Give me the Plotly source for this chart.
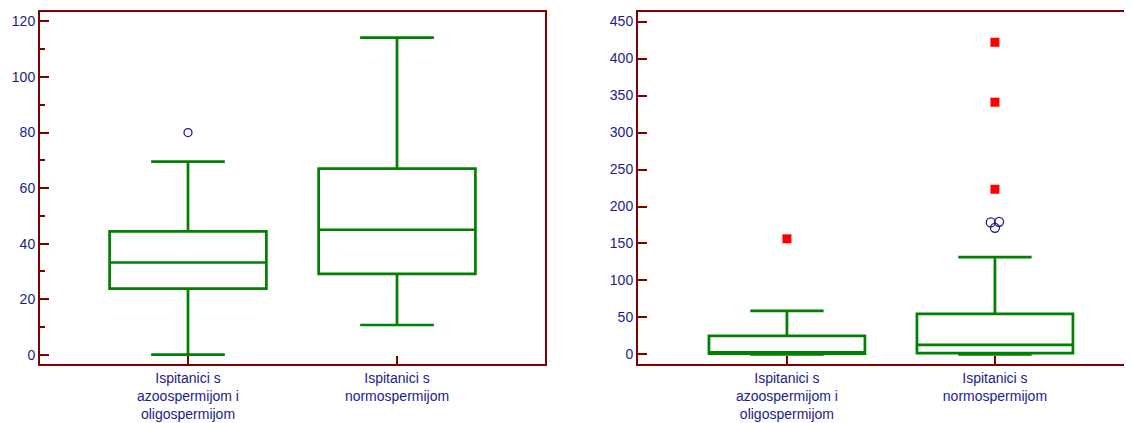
import plotly.graph_objects as go
from plotly.subplots import make_subplots

categories = ["Ispitanici s<br>azoospermijom i<br>oligospermijom", "Ispitanici s<br>normospermijom"]
cat_pos = [0, 1]

# Left panel box statistics
left_q1 = [23.8, 29.1]
left_median = [33.2, 45.0]
left_q3 = [44.4, 67.0]
left_low = [0.0, 10.7]
left_high = [69.5, 114.2]
left_out_group = [0]
left_out_y = [80.0]

# Right panel box statistics
right_q1 = [1.0, 1.8]
right_median = [3.0, 12.9]
right_q3 = [25.0, 54.8]
right_low = [0.0, 0.0]
right_high = [58.9, 131.5]
right_circ_group = [1, 1, 1]
right_circ_jitter = [-0.02, 0.02, 0.0]
right_circ_y = [178.4, 179.3, 171.2]
right_sq_group = [0, 1, 1, 1]
right_sq_y = [156.3, 223.3, 341.0, 422.0]

GREEN = "#008000"
AXC = "#800000"
LBL = "#1c1c8c"
FONT = "Liberation Sans, Arial, sans-serif"
FS = 14

fig = make_subplots(rows=1, cols=2)

fig.add_trace(go.Box(x=cat_pos, q1=left_q1, median=left_median, q3=left_q3,
                     lowerfence=left_low, upperfence=left_high,
                     boxpoints=False, width=0.75, whiskerwidth=0.47,
                     fillcolor="rgba(0,0,0,0)", line=dict(color=GREEN, width=2.7),
                     showlegend=False, hoverinfo="skip"), row=1, col=1)
fig.add_trace(go.Scatter(x=[cat_pos[g] for g in left_out_group], y=left_out_y, mode="markers",
                         marker=dict(symbol="circle-open", size=8, color=LBL, line=dict(width=1.3)),
                         showlegend=False), row=1, col=1)

fig.add_trace(go.Box(x=cat_pos, q1=right_q1, median=right_median, q3=right_q3,
                     lowerfence=right_low, upperfence=right_high,
                     boxpoints=False, width=0.75, whiskerwidth=0.47,
                     fillcolor="rgba(0,0,0,0)", line=dict(color=GREEN, width=2.7),
                     showlegend=False, hoverinfo="skip"), row=1, col=2)
fig.add_trace(go.Scatter(x=[cat_pos[g] + j for g, j in zip(right_circ_group, right_circ_jitter)],
                         y=right_circ_y, mode="markers",
                         marker=dict(symbol="circle-open", size=9, color=LBL, line=dict(width=1.3)),
                         showlegend=False), row=1, col=2)
fig.add_trace(go.Scatter(x=[cat_pos[g] for g in right_sq_group], y=right_sq_y, mode="markers",
                         marker=dict(symbol="square", size=9, color="#ff0000"),
                         showlegend=False), row=1, col=2)

# page body has an 8px margin; compensate so the plot areas land where the reference has them
W, H = 1124, 415
ml, mr, mt, mb = 32, 0, 4, 59
pw = W - ml - mr
fig.update_layout(width=W, height=H, margin=dict(l=ml, r=mr, t=mt, b=mb, autoexpand=False),
                  paper_bgcolor="white", plot_bgcolor="white",
                  font=dict(family=FONT, size=FS, color=LBL))

common_x = dict(type="linear", tickvals=cat_pos, ticktext=categories,
                showline=True, linecolor=AXC, linewidth=2,
                ticks="inside", ticklen=8, tickwidth=2, tickcolor=AXC,
                showgrid=False, zeroline=False, mirror=True,
                tickfont=dict(family=FONT, size=FS, color=LBL))
fig.update_xaxes(common_x)
fig.update_xaxes(domain=[0, (537 - ml) / pw], range=[-0.708, 1.708], row=1, col=1)
fig.update_xaxes(domain=[(630 - ml) / pw, 1.0], range=[-0.716, 1.659], row=1, col=2)

common_y = dict(showline=True, linecolor=AXC, linewidth=2,
                ticks="inside", ticklen=9, tickwidth=2, tickcolor=AXC,
                showgrid=False, zeroline=False,
                tickfont=dict(family=FONT, size=FS, color=LBL))
fig.update_yaxes(common_y)
fig.update_yaxes(range=[-3.35, 123.4], tickvals=[0, 20, 40, 60, 80, 100, 120], mirror=True,
                 minor=dict(ticks="inside", ticklen=5, tickwidth=1.5, tickcolor=AXC, dtick=10, tick0=0),
                 row=1, col=1)
fig.update_yaxes(range=[-12.9, 462.9], tickvals=[0, 50, 100, 150, 200, 250, 300, 350, 400, 450],
                 mirror=False, row=1, col=2)

fig.write_html("out.html")
